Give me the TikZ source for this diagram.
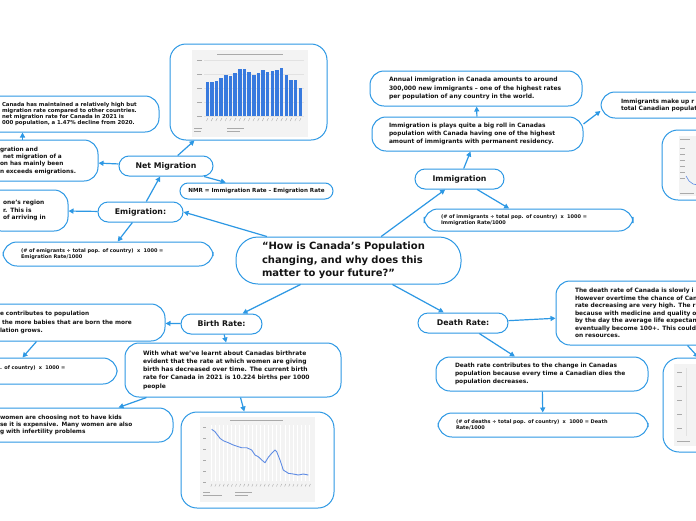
\documentclass[tikz,border=0pt]{standalone}
\usepackage{fontspec}
\setmainfont{DejaVu Sans}
\usetikzlibrary{arrows.meta,calc}
\definecolor{ink}{RGB}{20,20,20}
\definecolor{mapblue}{RGB}{45,152,228}
\definecolor{panel}{RGB}{243,243,243}
\definecolor{gridgray}{RGB}{226,226,226}
\definecolor{smudge}{RGB}{170,170,170}
\definecolor{barblue}{RGB}{56,122,222}
\definecolor{curve}{RGB}{95,140,228}
\tikzset{
  every picture/.style={color=ink, line width=1pt},
  bubble/.style={draw=mapblue, line width=1pt, rounded corners=14pt, fill=white, inner sep=0pt, align=left, text=ink},
  idea/.style={bubble, rounded corners=22pt, font=\fontsize{10}{13.5}\selectfont\bfseries},
  topic/.style={bubble, rounded corners=10pt, align=center, minimum height=20pt, font=\fontsize{7.8}{9}\selectfont\bfseries},
  noteA/.style={bubble, font=\fontsize{6}{8.2}\selectfont\bfseries},
  noteB/.style={bubble, font=\fontsize{5.9}{7.8}\selectfont\bfseries},
  noteC/.style={bubble, font=\fontsize{5}{6.2}\selectfont\bfseries},
  pic/.style={bubble, rounded corners=16pt},
  link/.style={-{Triangle[length=5pt,width=5pt]}, draw=mapblue, line width=1.2pt},
  smear/.style={draw=smudge, line width=0.9pt},
}

\begin{document}
\begin{tikzpicture}[x=1pt,y=-1pt]
  \useasboundingbox (0,0) rectangle (696,520);
  \clip (0,0) rectangle (696,520);
  \fill[white] (0,0) rectangle (696,520);

  % central question
  \node[idea, minimum width=225pt, minimum height=47pt, text width=173pt] (Q) at (348.5,260.5) {“How is Canada’s Population\\changing, and why does this\\matter to your future?”};

  % emigration and net migration branch (left, top)
  \node[topic, minimum width=85pt] (Emi) at (140.5,212) {Emigration:};
  \node[topic, minimum width=94pt] (Net) at (166,166) {Net Migration};
  \node[noteC, font=\fontsize{5.6}{6.2}\selectfont\bfseries, align=center, rounded corners=8pt, minimum width=153pt, minimum height=16pt] (NMR) at (256.5,191) {NMR = Immigration Rate – Emigration Rate};
  \node[noteC, font=\fontsize{5.4}{6.3}\selectfont\bfseries, minimum width=179pt, minimum height=36pt, text width=135pt] (Can) at (69.5,114) {Canada has maintained a relatively high but\\migration rate compared to other countries.\\net migration rate for Canada in 2021 is\\000 population, a 1.47\% decline from 2020.};
  \node[noteB, font=\fontsize{5.8}{7.3}\selectfont\bfseries, minimum width=118pt, minimum height=41pt, text width=78pt] (Gra) at (39,160.5) {gration and\\\hspace*{3pt}net migration of a\\on has mainly been\\n exceeds emigrations.};
  \node[noteB, minimum width=81pt, minimum height=41pt, text width=49pt] (Reg) at (27.5,210.5) {one’s region\\r. This is\\of arriving in};
  \node[noteC, minimum width=210pt, minimum height=24pt, text width=174pt] (EFm) at (108,254) {(\# of emigrants ÷ total pop. of country)~~x~~1000 =\\Emigration Rate/1000};
  \node[pic, minimum width=157pt, minimum height=96pt] (ChA) at (248.5,92) {};

  % immigration branch (right, top)
  \node[topic, minimum width=89pt] (Imm) at (459.5,179) {Immigration};
  \node[noteC, minimum width=209pt, minimum height=22pt, text width=175pt] (IFm) at (528.5,220) {(\# of immigrants ÷ total pop. of country)~~x~~1000 =\\Immigration Rate/1000};
  \node[noteB, minimum width=211pt, minimum height=34pt, text width=177pt] (Play) at (477.5,134) {Immigration is plays quite a big roll in Canadas\\population with Canada having one of the highest\\amount of immigrants with permanent residency.};
  \node[noteA, minimum width=212pt, minimum height=35pt, text width=174pt] (Ann) at (476,88.5) {Annual immigration in Canada amounts to around\\300,000 new immigrants – one of the highest rates\\per population of any country in the world.};
  \node[noteB, font=\fontsize{5.9}{6.8}\selectfont\bfseries, minimum width=158pt, minimum height=26pt, text width=118pt] (Up) at (680,105) {Immigrants make up r\\total Canadian populat};
  \node[pic, minimum width=98pt, minimum height=70pt] (ChB) at (711,165) {};

  % death rate branch (right, bottom)
  \node[topic, minimum width=90pt] (Dth) at (463,323) {Death Rate:};
  \node[noteB, font=\fontsize{5.9}{7.5}\selectfont\bfseries, minimum width=204pt, minimum height=64pt, text width=166pt] (DTx) at (658,313) {The death rate of Canada is slowly i\\However overtime the chance of Can\\rate decreasing are very high. The r\\because with medicine and quality o\\by the day the average life expectan\\eventually become 100+. This could\\on resources.};
  \node[noteB, minimum width=212pt, minimum height=34pt, text width=174pt] (DCon) at (542,374) {Death rate contributes to the change in Canadas\\population because every time a Canadian dies the\\population decreases.};
  \node[noteC, minimum width=210pt, minimum height=24pt, text width=174pt] (DFm) at (543,425) {(\# of deaths ÷ total pop. of country)~~x~~1000 = Death\\Rate/1000};
  \node[pic, minimum width=96pt, minimum height=94pt] (ChD) at (711,405) {};

  % birth rate branch (left, bottom)
  \node[topic, minimum width=81pt] (Brt) at (221.5,324) {Birth Rate:};
  \node[noteB, font=\fontsize{5.8}{8.4}\selectfont\bfseries, minimum width=185pt, minimum height=37pt, text width=145pt] (BCon) at (72.5,322.5) {e contributes to population\\\hspace*{2pt}the more babies that are born the more\\lation grows.};
  \node[noteC, minimum width=137pt, minimum height=26pt, text width=97pt] (BFm) at (48.5,371) {. of country)~~x~~1000 =\\\mbox{}};
  \node[noteA, minimum width=216pt, minimum height=54pt, text width=180pt] (BTx) at (233,370) {With what we’ve learnt about Canadas birthrate\\evident that the rate at which women are giving\\birth has decreased over time. The current birth\\rate for Canada in 2021 is 10.224 births per 1000\\people};
  \node[noteB, font=\fontsize{5.8}{7.3}\selectfont\bfseries, minimum width=193pt, minimum height=34pt, text width=153pt] (Wom) at (76.5,425) {women are choosing not to have kids\\se it is expensive. Many women are also\\g with infertility problems};
  \node[pic, minimum width=153pt, minimum height=96pt] (ChC) at (257.5,460) {};

  % chart: immigrants per year
  \fill[panel] (192,50) rectangle (308,137);
  \draw[smear] (217,54) -- (283,54);
  \foreach \g in {60,74,88,102,116} {
    \draw[gridgray, line width=0.4pt] (204,\g) -- (304,\g);
    \draw[smudge, line width=0.6pt] (197,\g) -- (202,\g);
  }
  \foreach \h [count=\i from 0] in {81.7,82.3,80.7,78,75,75.7,73,69.3,69.3,72.3,75,72.7,70,72.3,71.3,70,68.3,74.7,80,79.7,88.3}
    \fill[barblue] ({205.5+\i*4.65},\h) rectangle ++(3.5,{116-\h});
  \foreach \i in {0,...,20}
    \draw[smudge, line width=0.4pt] ({208+\i*4.65},118) -- ++(-1.5,3);
  \draw[smear, line width=0.6pt] (194,128) -- (202,128) (194,131) -- (201,131) (227,128) -- (244,128) (227,131) -- (240,131);

  % chart: immigrant share (cut off)
  \fill[panel] (679,136) rectangle (700,196);
  \draw[smear, line width=0.6pt] (680,139) -- (690,139);
  \foreach \g in {148,154,160,166,172,178}
    \draw[smudge, line width=0.5pt] (680,\g) -- (685,\g);
  \draw[curve, line width=0.6pt] (686,176) -- (689,181) -- (693,184) -- (698,185);
  \draw[smear, line width=0.6pt] (680,193) -- (694,193);

  % chart: death rate (cut off)
  \fill[panel] (674,364) rectangle (700,446);
  \foreach \g in {372,386,400,414,428}
    \draw[smudge, line width=0.5pt] (677,\g) -- (682,\g);
  \draw[gridgray, line width=0.5pt] (686,368) -- (686,436);
  \draw[smear, line width=0.6pt] (677,441) -- (690,441);

  % chart: fertility rate
  \fill[panel] (200,417) rectangle (315,502);
  \draw[smear] (230,420) -- (283,420);
  \foreach \v in {0,...,24}
    \draw[white, line width=0.6pt] ({211+\v*4.1},425) -- ({211+\v*4.1},481);
  \foreach \g in {427,438,449,460,471,482}
    \draw[smudge, line width=0.5pt] (203,\g) -- (206,\g);
  \draw[curve, line width=0.9pt, line join=round] (211.7,429.3) -- (215,431.7) -- (220,438.3) -- (223.3,440.7) -- (228.3,442.7) -- (233.3,445) -- (238.3,446.7) -- (241.7,447.7) -- (246.7,447.7) -- (251.7,450) -- (255,455) -- (258.3,456.7) -- (261.7,460) -- (265,462.7) -- (268.3,457.3) -- (271.7,453.3) -- (275,450) -- (276.7,451.7) -- (280,460) -- (283.3,470) -- (288.3,473.3) -- (293.3,474) -- (298.3,475) -- (303.3,474) -- (308.3,475);
  \foreach \i in {0,...,24}
    \draw[smudge, line width=0.4pt] ({212+\i*4.1},484) -- ++(-1.2,2.5);
  \draw[smear, line width=0.6pt] (203,492) -- (210,492) (203,495) -- (222,495) (235,492) -- (252,492) (235,495) -- (248,495);

  % connectors
  \draw[link] (Q) -- (Emi.east);
  \draw[link] (Emi) -- (Net);
  \draw[link] (Emi) -- (Reg);
  \draw[link] (Emi) -- (EFm);
  \draw[link] (Net) -- (Gra);
  \draw[link] ([xshift=43pt]Gra.north west) -- ([xshift=43pt]Gra.north west |- Can.south);
  \draw[link] (Net) -- (NMR);
  \draw[link] (Net) -- (ChA);
  \draw[link] (Q) -- (Imm);
  \draw[link] (Imm) -- (IFm);
  \draw[link] (Imm) -- (Play);
  \draw[link] (Play) -- (Ann);
  \draw[link] ([yshift=10pt]Play.east) -- ([yshift=-6pt]Up.west);
  \draw[link] (Q) -- (Dth);
  \draw[link] (Dth) -- (DTx);
  \draw[link] (Dth) -- (DCon);
  \draw[link] (DCon) -- (DFm);
  \draw[link] ([xshift=132pt]DTx.south west) -- ([xshift=36pt]ChD.north west);
  \draw[link] (Q) -- (Brt);
  \draw[link] (Brt) -- (BCon);
  \draw[link] ([xshift=57pt]BCon.south west) -- ([xshift=43pt]BFm.north west);
  \draw[link] (Brt) -- (BTx);
  \draw[link] ([xshift=22pt]BTx.south west) -- ([xshift=139pt]Wom.north west);
  \draw[link] (BTx) -- (ChC);
\end{tikzpicture}
\end{document}
